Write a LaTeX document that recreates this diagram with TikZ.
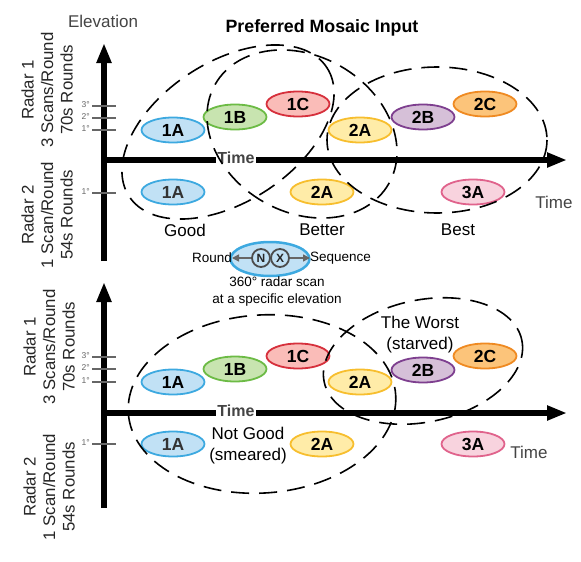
\documentclass[tikz,border=0pt]{standalone}
\usepackage{fontspec}
\setmainfont{Liberation Sans}
\usetikzlibrary{arrows.meta,shapes.geometric}
\definecolor{aF}{HTML}{C1E1F5}\definecolor{aD}{HTML}{3DA9E0}
\definecolor{bF}{HTML}{C8E4B0}\definecolor{bD}{HTML}{6CBB45}
\definecolor{cF}{HTML}{FABCB8}\definecolor{cD}{HTML}{D6303C}
\definecolor{dF}{HTML}{FFECA8}\definecolor{dD}{HTML}{F7BE2E}
\definecolor{eF}{HTML}{D6C0D8}\definecolor{eD}{HTML}{7E3F8F}
\definecolor{fF}{HTML}{FCC47A}\definecolor{fD}{HTML}{EF8A22}
\definecolor{gF}{HTML}{F8D3DE}\definecolor{gD}{HTML}{E0638C}
\definecolor{txtgray}{HTML}{444444}
\definecolor{tickgray}{HTML}{666666}
\tikzset{
  oval/.style={ellipse, minimum width=63pt, minimum height=25pt, inner sep=0pt,
    line width=1.8pt, font=\fontsize{17.5}{17.5}\selectfont\bfseries},
  ovA/.style={oval, fill=aF, draw=aD},
  ovB/.style={oval, fill=bF, draw=bD},
  ovC/.style={oval, fill=cF, draw=cD},
  ovD/.style={oval, fill=dF, draw=dD},
  ovE/.style={oval, fill=eF, draw=eD},
  ovF/.style={oval, fill=fF, draw=fD},
  ovG/.style={oval, fill=gF, draw=gD},
  axisline/.style={line width=6pt, -{Triangle[length=20pt,width=14pt]}},
  tickline/.style={draw=tickgray, line width=1.3pt},
  ticklabel/.style={anchor=east, inner sep=0pt, text=tickgray, font=\fontsize{8.5}{8.5}\selectfont},
  radarlabel/.style={rotate=90, align=center, text=black!85, font=\fontsize{16.8}{19.5}\selectfont},
  groupdash/.style={draw=black, line width=1.6pt, dash pattern=on 18pt off 10pt},
  axistime/.style={fill=white, inner sep=1pt, text=txtgray, font=\fontsize{16}{16}\selectfont\bfseries},
  plaintime/.style={text=txtgray, font=\fontsize{17}{17}\selectfont},
  verdict/.style={align=center, font=\fontsize{17}{21}\selectfont},
  smalltxt/.style={font=\fontsize{13.5}{17}\selectfont},
  legarrow/.style={draw=tickgray, line width=1.5pt, -{Triangle[length=7pt,width=7pt]}},
  seqcircle/.style={circle, draw=black!70, line width=1.8pt, minimum size=18pt, inner sep=0pt,
    font=\fontsize{12}{12}\selectfont\bfseries, text=black!85}
}
\begin{document}
\begin{tikzpicture}[x=1pt,y=-1pt]
\useasboundingbox (0,0) rectangle (581,562);

% titles
\node[text=txtgray, font=\fontsize{17}{17}\selectfont] (elev) at (103,21) {Elevation};
\node[font=\fontsize{17.8}{17.8}\selectfont\bfseries] (title) at (322,28) {Preferred Mosaic Input};

% ---------------- top panel ----------------
\coordinate (o1) at (104,160);
\draw[axisline] (104,261) -- (104,43);
\draw[axisline] (101,160) -- (567,160);
\node[axistime] (time1) at (236,158) {Time};
\node[plaintime] (timeR1) at (554,202) {Time};

\draw[tickline] (92,106) -- (116,106); \node[ticklabel] (t13) at (90,105) {3°};
\draw[tickline] (92,118) -- (116,118); \node[ticklabel] (t12) at (90,117) {2°};
\draw[tickline] (92,130) -- (116,130); \node[ticklabel] (t11) at (90,129) {1°};
\draw[tickline] (92,193) -- (116,193); \node[ticklabel] (t21) at (90,192) {1°};

\node[radarlabel] (r1a) at (47,90) {Radar 1\\3 Scans/Round\\70s Rounds};
\node[radarlabel] (r2a) at (47,215) {Radar 2\\1 Scan/Round\\54s Rounds};

\node[ovA] (a1A) at (173,130) {1A};
\node[ovB] (a1B) at (235,117) {1B};
\node[ovC] (a1C) at (298,104) {1C};
\node[ovD] (a2A) at (360,130) {2A};
\node[ovE] (a2B) at (423,117) {2B};
\node[ovF] (a2C) at (485,104) {2C};
\node[ovA, text=black!80] (b1A) at (173,192) {1A};
\node[ovD] (b2A) at (322,192) {2A};
\node[ovG] (b3A) at (473,192) {3A};

\draw[groupdash, rotate around={33:(228,132)}] (228,132) ellipse [x radius=118, y radius=70];
\draw[groupdash, rotate around={-30:(302,134)}] (302,134) ellipse [x radius=100, y radius=78];
\draw[groupdash] (437,140) ellipse [x radius=110, y radius=73];

\node[verdict] (good) at (185,230) {Good};
\node[verdict] (better) at (322,230) {Better};
\node[verdict] (best) at (458,230) {Best};

% legend
\node[ellipse, fill=aF, draw=aD, line width=2.5pt, minimum width=79pt, minimum height=34pt] (leg) at (270,259) {};
\node[seqcircle] (nn) at (261,258) {N};
\node[seqcircle] (xx) at (280,258) {X};
\node[smalltxt, anchor=east, inner sep=0pt] (rnd) at (232,258) {Round};
\node[smalltxt, anchor=west, inner sep=0pt] (seq) at (310,258) {Sequence};
\draw[legarrow] (nn.west) -- (rnd.east);
\draw[legarrow] (xx.east) -- (seq.west);
\node[smalltxt, align=center] (desc) at (277,292) {360° radar scan\\at a specific elevation};

% ---------------- bottom panel ----------------
\coordinate (o2) at (104,413);
\draw[axisline] (104,508) -- (104,282);
\draw[axisline] (101,413) -- (567,413);
\node[axistime] (time2) at (236,411) {Time};
\node[plaintime] (timeR2) at (529,452) {Time};

\draw[tickline] (92,357) -- (116,357); \node[ticklabel] (u13) at (90,356) {3°};
\draw[tickline] (92,369) -- (116,369); \node[ticklabel] (u12) at (90,368) {2°};
\draw[tickline] (92,382) -- (116,382); \node[ticklabel] (u11) at (90,381) {1°};
\draw[tickline] (92,444) -- (116,444); \node[ticklabel] (u21) at (90,443) {1°};

\node[radarlabel] (r1b) at (49,347) {Radar 1\\3 Scans/Round\\70s Rounds};
\node[radarlabel] (r2b) at (49,487) {Radar 2\\1 Scan/Round\\54s Rounds};

\node[ovA] (c1A) at (173,382) {1A};
\node[ovB] (c1B) at (235,369) {1B};
\node[ovC] (c1C) at (298,356) {1C};
\node[ovD] (c2A) at (360,382) {2A};
\node[ovE] (c2B) at (423,370) {2B};
\node[ovF] (c2C) at (485,356) {2C};
\node[ovA, text=black!80] (d1A) at (173,444) {1A};
\node[ovD] (d2A) at (322,444) {2A};
\node[ovG] (d3A) at (473,444) {3A};

\draw[groupdash, rotate around={4:(262,404)}] (262,404) ellipse [x radius=134, y radius=89];
\draw[groupdash, rotate around={12:(423,361)}] (423,361) ellipse [x radius=101, y radius=61];

\node[verdict] (notgood) at (248,446) {Not Good\\(smeared)};
\node[verdict] (worst) at (420,335) {The Worst\\(starved)};
\end{tikzpicture}
\end{document}
